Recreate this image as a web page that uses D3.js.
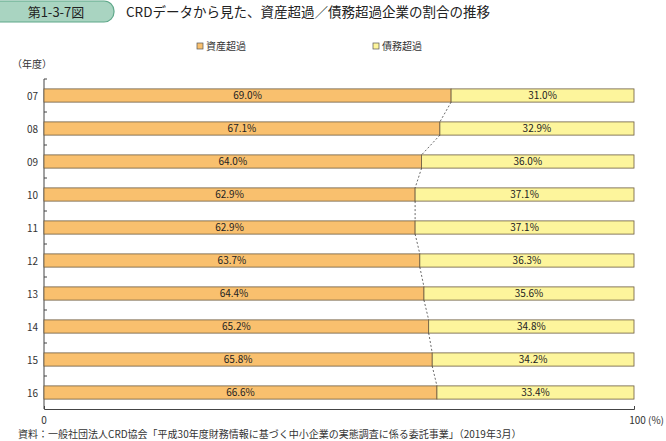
<!DOCTYPE html>
<html><head><meta charset="utf-8">
<script src="https://cdn.jsdelivr.net/npm/d3@7"></script>
<style>body{margin:0;background:#fff}svg{font-family:"Noto Sans CJK JP","Noto Sans",sans-serif}</style>
</head><body><div id="chart"></div>
<script>
const years = ['07', '08', '09', '10', '11', '12', '13', '14', '15', '16'];
const assetOver = [69.0, 67.1, 64.0, 62.9, 62.9, 63.7, 64.4, 65.2, 65.8, 66.6];
const debtOver = [31.0, 32.9, 36.0, 37.1, 37.1, 36.3, 35.6, 34.8, 34.2, 33.4];
const seriesNames = ['資産超過', '債務超過'];
const xTicks = [0, 100];

const W = 666, H = 441;
const svg = d3.select('#chart').append('svg').attr('width', W).attr('height', H);

// title badge
svg.append('rect').attr('x', -10).attr('y', 1).attr('width', 124).attr('height', 21).attr('rx', 10)
  .attr('fill', '#a9d4c1').attr('stroke', '#5fa88a').attr('stroke-width', 1.2);
svg.append('text').attr('x', 56).attr('y', 17).attr('text-anchor', 'middle').attr('font-size', 13).attr('fill', '#222').text('第1-3-7図');
svg.append('text').attr('x', 126).attr('y', 17).attr('font-size', 13.5).attr('fill', '#222')
  .text('CRDデータから見た、資産超過／債務超過企業の割合の推移');

const x = d3.scaleLinear().domain([0, 100]).range([44, 634]);
const y = d3.scaleBand().domain(years).range([79, 409]).paddingInner(0.6).paddingOuter(0.3);
const colors = ['#f9c06e', '#fdf59c'];

// legend
const lg = svg.append('g').attr('font-size', 10).attr('fill', '#333');
[[197, 0], [373, 1]].forEach(([lx, i]) => {
  lg.append('rect').attr('x', lx).attr('y', 43).attr('width', 6).attr('height', 6)
    .attr('fill', colors[i]).attr('stroke', '#555').attr('stroke-width', 0.7);
  lg.append('text').attr('x', lx + 9).attr('y', 50).text(seriesNames[i]);
});
svg.append('text').attr('x', 12).attr('y', 68).attr('font-size', 10).attr('fill', '#333').text('（年度）');

// axes
const yAxis = svg.append('g').attr('transform', 'translate(44,0)');
yAxis.append('line').attr('y1', 79).attr('y2', 409).attr('stroke', '#444');
years.forEach((yr, i) => {
  const b = y(yr) - y.step() * y.paddingInner() / 2;
  yAxis.append('line').attr('x1', 0).attr('x2', 3).attr('y1', b).attr('y2', b).attr('stroke', '#444');
});
yAxis.selectAll('text').data(years).join('text')
  .attr('x', -6).attr('y', d => y(d) + y.bandwidth() / 2 + 4).attr('text-anchor', 'end')
  .attr('font-size', 10).attr('fill', '#333').text(d => d);

const xAxis = svg.append('g').attr('transform', 'translate(0,409)')
  .call(d3.axisBottom(x).tickValues(xTicks).tickSize(-3).tickFormat(''));
xAxis.select('.domain').attr('stroke', '#444');
xAxis.selectAll('.tick line').attr('stroke', '#444');
svg.selectAll('.xl').data(xTicks).join('text').attr('class', 'xl')
  .attr('x', d => d ? 664 : x(d)).attr('y', 424).attr('text-anchor', d => d ? 'end' : 'middle')
  .attr('font-size', 10).attr('fill', '#333').text(d => d ? '100 (%)' : '0');

// bars
const rows = years.map((yr, i) => ({ yr, a: assetOver[i], d: debtOver[i] }));
const g = svg.append('g');
g.selectAll('.ra').data(rows).join('rect')
  .attr('x', x(0)).attr('y', d => y(d.yr)).attr('width', d => x(d.a) - x(0)).attr('height', y.bandwidth())
  .attr('fill', colors[0]).attr('stroke', '#6b5a40').attr('stroke-width', 0.8);
g.selectAll('.rd').data(rows).join('rect')
  .attr('x', d => x(d.a)).attr('y', d => y(d.yr)).attr('width', d => x(100) - x(d.a)).attr('height', y.bandwidth())
  .attr('fill', colors[1]).attr('stroke', '#6b5a40').attr('stroke-width', 0.8);
g.selectAll('.ta').data(rows).join('text')
  .attr('x', d => x(d.a / 2)).attr('y', d => y(d.yr) + y.bandwidth() / 2 + 3.5).attr('text-anchor', 'middle')
  .attr('font-size', 10).attr('fill', '#222').text(d => d.a.toFixed(1) + '%');
g.selectAll('.td').data(rows).join('text')
  .attr('x', d => x(d.a + d.d / 2)).attr('y', d => y(d.yr) + y.bandwidth() / 2 + 3.5).attr('text-anchor', 'middle')
  .attr('font-size', 10).attr('fill', '#222').text(d => d.d.toFixed(1) + '%');

// dashed connectors
for (let i = 0; i < rows.length - 1; i++) {
  g.append('line').attr('x1', x(rows[i].a)).attr('y1', y(rows[i].yr) + y.bandwidth())
    .attr('x2', x(rows[i + 1].a)).attr('y2', y(rows[i + 1].yr))
    .attr('stroke', '#444').attr('stroke-width', 0.8).attr('stroke-dasharray', '2 2');
}

svg.append('text').attr('x', 18).attr('y', 438).attr('font-size', 10).attr('fill', '#333')
  .text('資料：一般社団法人CRD協会「平成30年度財務情報に基づく中小企業の実態調査に係る委託事業」（2019年3月）');
</script></body></html>
